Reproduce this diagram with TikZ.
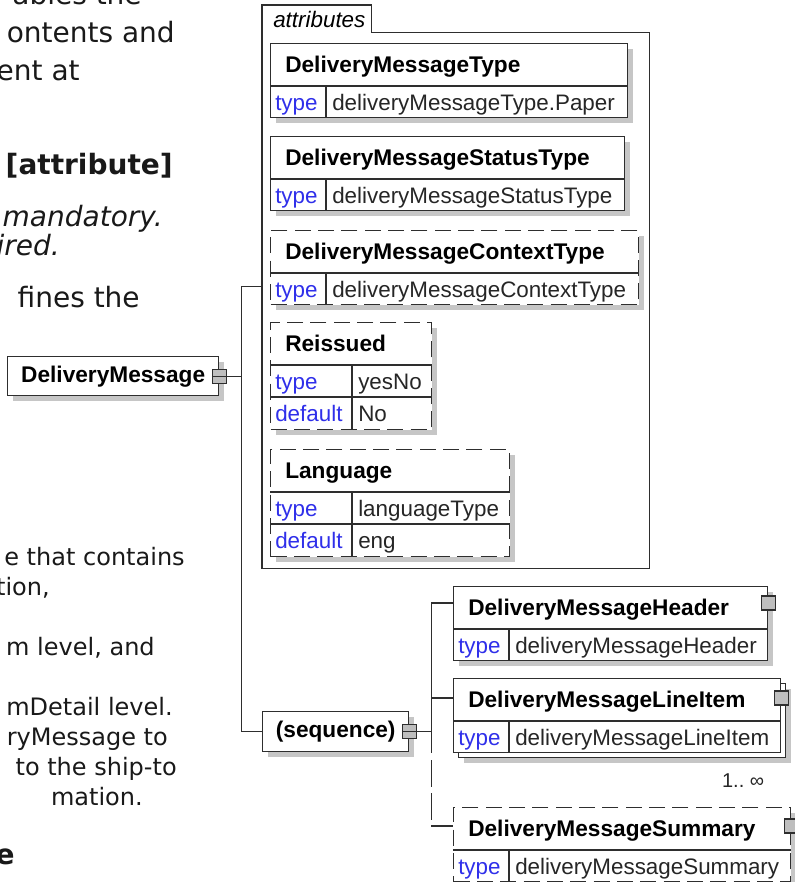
\documentclass[tikz,border=0pt]{standalone}
\usepackage{fontspec}
\setmainfont{Liberation Sans}
\newfontfamily\docfont{DejaVu Sans}[ItalicFont={DejaVu Sans Oblique}]
\usetikzlibrary{shadows,calc}
\definecolor{kwBlue}{HTML}{2F2FEA}
\definecolor{lnGray}{HTML}{2E2E2E}
\definecolor{shGray}{HTML}{C6C6C6}
\definecolor{sqGray}{HTML}{BEBEBE}
\newcommand{\pxu}{0.75pt}
\newcommand{\hdfont}{\fontsize{17}{20}\selectfont\bfseries}
\newcommand{\rowfont}{\fontsize{16.8}{20}\selectfont}
\tikzset{
  bord/.style={draw=lnGray, line width=1.05pt},
  dbord/.style={bord, dash pattern=on 12pt off 5.5pt},
  shd/.style={general shadow={fill=shGray, shadow xshift=3.75pt, shadow yshift=-3.75pt}},
  noshd/.style={},
  cell/.style={fill=white, inner sep=0pt, anchor=north west},
  wire/.style={draw=lnGray, line width=1.05pt},
  optwire/.style={wire, dash pattern=on 20pt off 5pt, dash phase=20pt},
  hd/.style={font=\hdfont, anchor=base west, inner sep=0pt},
  kw/.style={font=\rowfont, text=kwBlue, anchor=base west, inner sep=0pt},
  vl/.style={font=\rowfont, text=black!85, anchor=base west, inner sep=0pt},
  sq/.style={draw=lnGray, line width=0.8pt, fill=sqGray, minimum size=10.5pt, inner sep=0pt},
  doc/.style={font=\docfont\fontsize{21}{25}\selectfont, text=black!90, anchor=base east, inner sep=0pt},
  docb/.style={doc, font=\docfont\fontsize{21}{25}\selectfont\bfseries},
  doci/.style={doc, font=\docfont\fontsize{21}{25}\selectfont\itshape},
  docs/.style={doc, font=\docfont\fontsize{18}{22}\selectfont},
}
\begin{document}
\begin{tikzpicture}[x=0.75pt, y=-0.75pt]
\useasboundingbox (0,0) rectangle (795,882);
\clip (0,0) rectangle (795,882);
% ================= cut-off page text =================
\node[doc] (p1) at (142,4) {ables the};
\node[doc] (p2) at (175,42) {ontents and};
\node[doc] (p3) at (80,80) {ent at};
\node[docb] (p4) at (173,174) {[attribute]};
\node[doci] (p5) at (163,226) {mandatory.};
\node[doci] (p6) at (60,255) {ired.};
\node[doc] (p7) at (140,307) {fines the};
\node[docs] (q1) at (185,565) {e that contains};
\node[docs] (q2) at (50,595) {tion,};
\node[docs] (q3) at (155,655) {m level, and};
\node[docs] (q4) at (173,715) {mDetail level.};
\node[docs] (q5) at (168,745) {ryMessage to};
\node[docs] (q6) at (177,775) {to the ship-to};
\node[docs] (q7) at (143,805) {mation.};
\node[docb] (q8) at (15,864) {e};
% ================= attributes group =================
\node[cell, fill=none, minimum width=387*\pxu, minimum height=563*\pxu] (attr) at (262,5) {};
\node[cell, fill=none, minimum width=109*\pxu, minimum height=27*\pxu] (attr-tab) at (attr.north west) {};
\draw[bord] (attr.south west) -- (attr.north west) -- (attr-tab.north east) -- (attr-tab.south east)
  -- (attr-tab.south east -| attr.east) -- (attr.south east) -- cycle;
\node[hd, font=\rowfont\itshape] (attr-lbl) at ([shift={(11,22)}]attr.north west) {attributes};
% ================= elements with a type row =================
\node[cell, shd, bord, minimum width=327*\pxu, minimum height=74*\pxu] (dml-back) at (458,683) {};
\foreach \nm/\x/\y/\w/\sh/\fr/\ttl/\val in {
  dmt/270/43/357/shd/bord/DeliveryMessageType/deliveryMessageType.Paper,
  dmst/270/136/354/shd/bord/DeliveryMessageStatusType/deliveryMessageStatusType,
  dmct/270/230/368/shd/dbord/DeliveryMessageContextType/deliveryMessageContextType,
  dmh/453/586/314/shd/bord/DeliveryMessageHeader/deliveryMessageHeader,
  dml/453/678/327/noshd/bord/DeliveryMessageLineItem/deliveryMessageLineItem,
  dms/453/807/337/shd/dbord/DeliveryMessageSummary/deliveryMessageSummary}{
  \node[cell, \sh, \fr, minimum width=\w*\pxu, minimum height=74*\pxu] (\nm) at (\x,\y) {};
  \draw[bord] ([shift={(0,43)}]\nm.north west) -- ([shift={(0,43)}]\nm.north east)
    ([shift={(56,43)}]\nm.north west) -- ([shift={(56,0)}]\nm.south west);
  \node[hd] (\nm-t) at ([shift={(15,29.5)}]\nm.north west) {\ttl};
  \node[kw] (\nm-k) at ([shift={(5,67)}]\nm.north west) {type};
  \node[vl] (\nm-v) at ([shift={(62,67)}]\nm.north west) {\val};
}
% ================= elements with type and default =================
\foreach \nm/\y/\w/\ttl/\val/\dflt in {reis/322/161/Reissued/yesNo/No, lang/449/239/Language/languageType/eng}{
  \node[cell, shd, dbord, minimum width=\w*\pxu, minimum height=107*\pxu] (\nm) at (270,\y) {};
  \draw[bord] ([shift={(0,43)}]\nm.north west) -- ([shift={(0,43)}]\nm.north east)
    ([shift={(0,75)}]\nm.north west) -- ([shift={(0,75)}]\nm.north east)
    ([shift={(82,43)}]\nm.north west) -- ([shift={(82,0)}]\nm.south west);
  \node[hd] (\nm-t) at ([shift={(15,29.5)}]\nm.north west) {\ttl};
  \node[kw] (\nm-k) at ([shift={(5,67)}]\nm.north west) {type};
  \node[vl] (\nm-v) at ([shift={(88,67)}]\nm.north west) {\val};
  \node[kw] (\nm-dk) at ([shift={(5,99)}]\nm.north west) {default};
  \node[vl] (\nm-dv) at ([shift={(88,99)}]\nm.north west) {\dflt};
}
\node[vl, anchor=base east, font=\fontsize{15}{17}\selectfont] (dml-m) at ([shift={(-17,34)}]dml.south east) {1..\ ∞};
% ================= root and sequence =================
\node[cell, shd, bord, minimum width=211*\pxu, minimum height=39*\pxu, font=\hdfont] (dm) at (7,356) {DeliveryMessage};
\node[sq] (dm-sq) at (dm.east) {};
\node[cell, shd, bord, minimum width=146*\pxu, minimum height=40*\pxu, font=\hdfont] (seq) at (262,711) {(sequence)};
\node[sq] (seq-sq) at (seq.east) {};
\foreach \nm/\dy in {dmh/17, dml/20, dms/19}{
  \coordinate (\nm-in) at ([shift={(0,\dy)}]\nm.north west);
  \node[sq] (\nm-sq) at ([shift={(0,\dy)}]\nm.north east) {};
}
% ================= connectors =================
\coordinate (bus1) at ([shift={(22,0)}]dm.east);
\draw[wire] (dm-sq.west) -- (bus1);
\draw[wire] (attr.west) -| (bus1) |- (seq.west);
\coordinate (bus2) at ([shift={(22,0)}]seq.east);
\draw[wire] (seq-sq.west) -- (bus2);
\draw[wire] (dmh-in) -| (bus2);
\draw[wire] (dml-in) -- (dml-in -| bus2);
\draw[wire] (bus2) -- (bus2 |- dml.south);
\draw[optwire] (bus2 |- dml.south) -- (bus2 |- dms-in);
\draw[wire] (bus2 |- dms-in) -- (dms-in);
\end{tikzpicture}
\end{document}
